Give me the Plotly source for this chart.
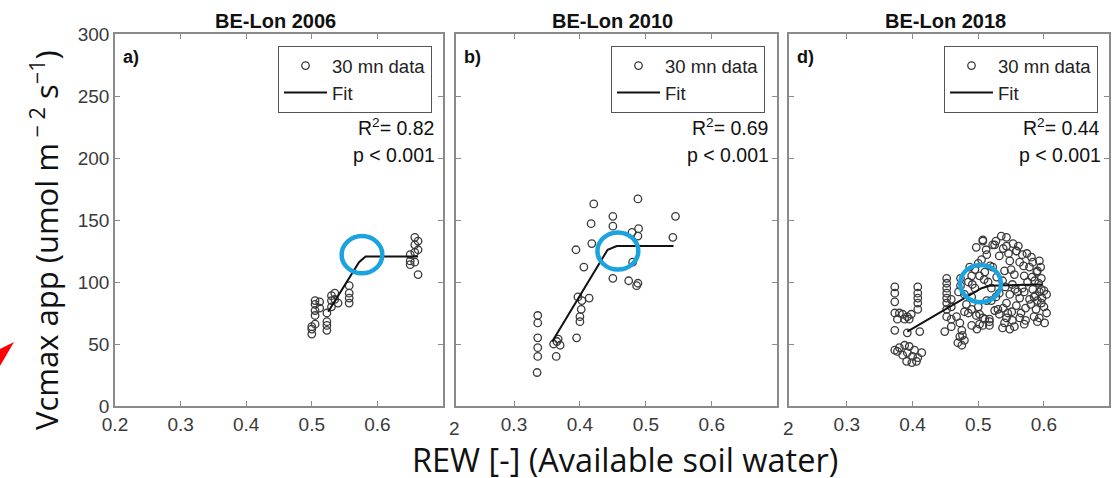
import plotly.graph_objects as go

# ---------------- data ----------------
titles = ["BE-Lon 2006", "BE-Lon 2010", "BE-Lon 2018"]
panel_labels = ["a)", "b)", "d)"]
r2_labels = ["0.82", "0.69", "0.44"]
p_label = "p < 0.001"
x_tick_vals = [0.2, 0.3, 0.4, 0.5, 0.6]
y_tick_vals = [0, 50, 100, 150, 200, 250, 300]

rew_2006 = [0.500, 0.500, 0.500, 0.505, 0.505, 0.505, 0.505, 0.505, 0.512, 0.512,
            0.523, 0.523, 0.523, 0.523, 0.530, 0.530, 0.530, 0.535, 0.535, 0.540,
            0.557, 0.557, 0.557, 0.557, 0.650, 0.650, 0.650, 0.657, 0.657, 0.657,
            0.657, 0.662, 0.662, 0.662]
vcmax_2006 = [58, 62, 64, 66, 73, 77, 82, 85, 79, 84,
              61, 65, 68, 75, 80, 85, 89, 91, 86, 83,
              83, 87, 91, 97, 114, 117, 122, 116, 124, 130,
              136, 106, 126, 133]
fit_x_2006 = [0.525, 0.572, 0.582, 0.662]
fit_y_2006 = [76, 116, 120.5, 120.5]

rew_2010 = [0.421, 0.488, 0.545, 0.450, 0.417, 0.450, 0.479, 0.489, 0.488, 0.541,
            0.418, 0.394, 0.406, 0.480, 0.450, 0.474, 0.486, 0.397, 0.414, 0.403,
            0.402, 0.400, 0.400, 0.395, 0.336, 0.336, 0.336, 0.336, 0.336, 0.335,
            0.367, 0.370, 0.364, 0.365, 0.360, 0.488]
vcmax_2010 = [163, 167, 153, 153, 147, 145, 140, 143, 137, 136,
              131, 126, 112, 116, 103, 101, 97, 88, 87, 85,
              78, 72, 68, 55, 73, 67, 55, 47, 40, 27,
              54, 49, 40, 52, 50, 99]
fit_x_2010 = [0.358, 0.442, 0.456, 0.542]
fit_y_2010 = [52, 126, 129, 129]

rew_2018 = [0.373, 0.373, 0.373, 0.373, 0.380, 0.385, 0.392, 0.377, 0.388, 0.395,
            0.373, 0.392, 0.411, 0.408, 0.408, 0.408, 0.408, 0.408, 0.398,
            0.373, 0.380, 0.388, 0.395, 0.403, 0.385, 0.392, 0.400, 0.408, 0.391,
            0.399, 0.406, 0.377, 0.414,
            0.452, 0.452, 0.452, 0.452, 0.452, 0.452, 0.452, 0.452, 0.449,
            0.459, 0.459, 0.459, 0.459,
            0.467, 0.472, 0.475, 0.472, 0.469, 0.476, 0.479, 0.475, 0.479, 0.490,
            0.473, 0.473, 0.470,
            0.535, 0.507, 0.522, 0.543, 0.558, 0.567, 0.581, 0.593, 0.497, 0.513,
            0.532, 0.548, 0.563, 0.578, 0.590, 0.596, 0.522, 0.540, 0.555, 0.570,
            0.586, 0.537, 0.552, 0.567, 0.583, 0.596, 0.604, 0.502, 0.509, 0.491,
            0.520, 0.532, 0.548, 0.563, 0.578, 0.590, 0.543, 0.558, 0.572, 0.588,
            0.497, 0.507, 0.517, 0.532, 0.543, 0.552, 0.563, 0.572, 0.593, 0.601,
            0.502, 0.517, 0.537, 0.548, 0.482, 0.479, 0.487,
            0.507, 0.525, 0.543, 0.558, 0.583, 0.589, 0.593, 0.596, 0.590, 0.502,
            0.507, 0.517, 0.495, 0.500, 0.490, 0.510, 0.515, 0.528, 0.550, 0.575,
            0.560, 0.585, 0.530, 0.545, 0.520,
            0.485, 0.495, 0.505, 0.512, 0.518, 0.527, 0.538, 0.546, 0.553, 0.561,
            0.569, 0.574, 0.582, 0.587, 0.592, 0.597, 0.600, 0.604, 0.600, 0.595,
            0.570, 0.556, 0.541, 0.527, 0.513, 0.525, 0.538, 0.551, 0.565, 0.580,
            0.585, 0.570, 0.555, 0.540, 0.510, 0.500, 0.490, 0.485, 0.490, 0.498]
vcmax_2018 = [96, 91, 84, 75, 75, 74, 72, 70, 70, 70,
              61, 59, 60, 96, 91, 87, 83, 78, 74,
              45, 47, 49, 48, 45, 41, 43, 40, 39, 36,
              35, 36, 44, 43,
              103, 99, 95, 91, 87, 83, 78, 72, 60,
              86, 80, 70, 64,
              72, 67, 61, 56, 51, 57, 53, 49, 76, 78,
              103, 97, 92,
              137, 133, 130, 129, 125, 122, 120, 117, 128, 122,
              121, 117, 116, 112, 109, 103, 112, 109, 106, 105,
              101, 101, 98, 95, 94, 94, 90, 105, 102, 98,
              95, 91, 90, 87, 86, 85, 83, 81, 79, 78,
              73, 71, 70, 74, 71, 69, 71, 69, 71, 67,
              66, 65, 63, 62, 82, 90, 112,
              134, 130, 136, 125, 116, 108, 92, 83, 68, 74,
              65, 68, 110, 115, 105, 108, 100, 104, 110, 100,
              92, 88, 78, 75, 85,
              100, 95, 118, 126, 113, 133, 127, 123, 131, 129,
              113, 123, 104, 89, 99, 87, 80, 75, 93, 112,
              92, 94, 96, 88, 85, 77, 79, 76, 75, 82,
              72, 66, 64, 67, 70, 80, 88, 75, 65, 62]
fit_x_2018 = [0.392, 0.480, 0.505, 0.517, 0.598]
fit_y_2018 = [60, 87, 95, 97, 98]

break_x = [0.5765, 0.4576, 0.5035]
break_y = [122, 125, 98.7]

# ---------------- figure ----------------
W, H = 1116, 478
def px(x):
    return x / W
def py(y):
    return 1 - y / H

x_domains = [[px(115), px(443)], [px(456), px(777)], [px(789), px(1109)]]
x_ranges = [[0.2, 0.7], [0.212, 0.699], [0.212, 0.699]]
y_domain = [py(406), py(34)]

series = [(rew_2006, vcmax_2006, fit_x_2006, fit_y_2006),
          (rew_2010, vcmax_2010, fit_x_2010, fit_y_2010),
          (rew_2018, vcmax_2018, fit_x_2018, fit_y_2018)]

fig = go.Figure()
legend_names = ["legend", "legend2", "legend3"]
legend_right = [432, 765, 1098]
font_main = "Liberation Sans, Arial, sans-serif"
font_big = "Open Sans, sans-serif"
AX_COL = "#8a8a8a"
TXT_COL = "#2b2b2b"

for i, (xs, ys, fx, fy) in enumerate(series):
    xa = "x" if i == 0 else f"x{i+1}"
    ya = "y" if i == 0 else f"y{i+1}"
    fig.add_trace(go.Scatter(
        x=xs, y=ys, mode="markers", name="30 mn data",
        marker=dict(symbol="circle-open", size=7.5, color="#3a3a3a", line=dict(width=1.3)),
        xaxis=xa, yaxis=ya, legend=legend_names[i], showlegend=True))
    fig.add_trace(go.Scatter(
        x=fx, y=fy, mode="lines", name="Fit",
        line=dict(color="#111111", width=2),
        xaxis=xa, yaxis=ya, legend=legend_names[i], showlegend=True))

layout = dict(
    width=W, height=H,
    margin=dict(l=0, r=0, t=0, b=0, autoexpand=False),
    paper_bgcolor="white", plot_bgcolor="white",
    font=dict(family=font_main, color=TXT_COL, size=16),
    shapes=[], annotations=[],
)

def ann(text, x, y, xa="center", ya="middle", size=16, color="#111111", family=font_main, angle=0):
    return dict(text=text, x=x, y=y, xref="paper", yref="paper", xanchor=xa, yanchor=ya,
                showarrow=False, textangle=angle, font=dict(size=size, color=color, family=family))

TICK_FONT = dict(size=19, color="#3a3a3a", family=font_main)

for i in range(3):
    kx = "xaxis" if i == 0 else f"xaxis{i+1}"
    ky = "yaxis" if i == 0 else f"yaxis{i+1}"
    anchor_y = "y" if i == 0 else f"y{i+1}"
    anchor_x = "x" if i == 0 else f"x{i+1}"
    layout[kx] = dict(
        domain=x_domains[i], range=x_ranges[i], anchor=anchor_y,
        tickvals=x_tick_vals, ticktext=[f"{v:.1f}" for v in x_tick_vals],
        ticks="inside", ticklen=5, tickcolor=AX_COL, mirror="allticks",
        showline=True, linecolor=AX_COL, linewidth=1.5, showgrid=False, zeroline=False,
        automargin=False, tickfont=TICK_FONT,
    )
    layout[ky] = dict(
        domain=y_domain, range=[0, 300], anchor=anchor_x,
        tickvals=y_tick_vals, ticks="inside", ticklen=5, tickcolor=AX_COL,
        mirror="allticks", showline=True, linecolor=AX_COL, linewidth=1.5,
        showgrid=False, zeroline=False, showticklabels=(i == 0), automargin=False,
        tickfont=TICK_FONT,
    )
    layout[legend_names[i]] = dict(
        x=px(legend_right[i]), xanchor="right", y=py(46), yanchor="top",
        bordercolor="#555555", borderwidth=1, bgcolor="white",
        font=dict(size=18.5, color="#222222", family=font_main),
        tracegroupgap=0, itemwidth=43,
    )
    xd = x_domains[i]
    layout["annotations"].append(ann(f"<b>{titles[i]}</b>", (xd[0] + xd[1]) / 2 - px(4), py(21), size=20))
    layout["annotations"].append(ann(f"<b>{panel_labels[i]}</b>", xd[0] + px(6), py(57), xa="left", size=18))
    layout["annotations"].append(ann(f"R<sup>2</sup>= {r2_labels[i]}", xd[1] - px(7), py(127), xa="right", size=19.5))
    layout["annotations"].append(ann(p_label, xd[1] - px(6), py(155), xa="right", size=19.5))
    layout["shapes"].append(dict(
        type="circle", xref=anchor_x, yref=anchor_y,
        x0=break_x[i] - 0.031, x1=break_x[i] + 0.031,
        y0=break_y[i] - 15, y1=break_y[i] + 15,
        line=dict(color="#1aa3df", width=4.5)))

# cropped tick-label fragments of neighbouring panels
for xx in [454, 788]:
    layout["annotations"].append(ann("2", px(xx), py(428), size=19, color="#3a3a3a"))

# axis titles
layout["annotations"].append(ann("Vcmax app (umol m<sup> − 2</sup> s<sup>−1</sup>)",
                                 px(44), py(240), size=31, family=font_big, angle=-90))
layout["annotations"].append(ann("REW [-] (Available soil water)",
                                 px(625), py(459), size=32.5, family=font_big))

# red arrow tip at bottom-left
layout["shapes"].append(dict(
    type="path", xref="paper", yref="paper",
    path=f"M 0 {py(349)} L {px(14)} {py(342)} L 0 {py(366)} Z",
    fillcolor="#ff0000", line=dict(width=0)))

fig.update_layout(**layout)
fig.write_html("out.html", config={"displayModeBar": False},
               post_script="document.body.style.margin='0px';document.body.style.overflow='hidden';")
